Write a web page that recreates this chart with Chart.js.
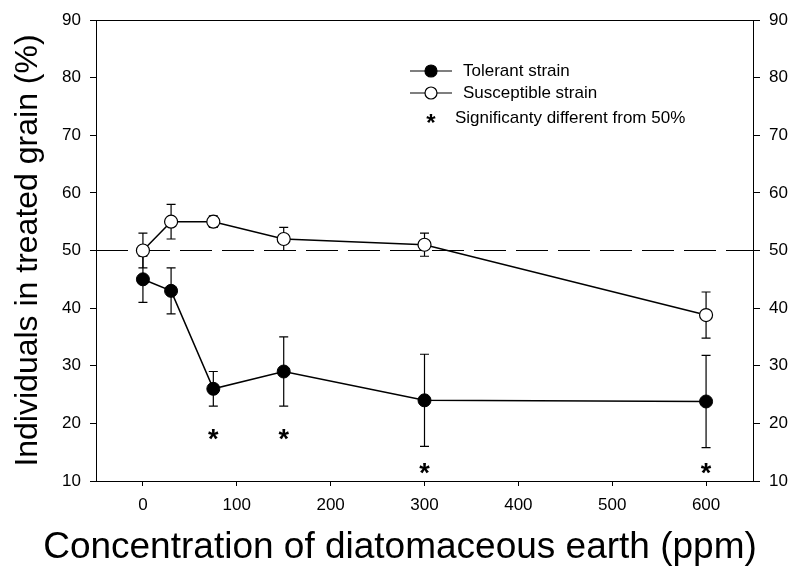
<!DOCTYPE html>
<html>
<head>
<meta charset="utf-8">
<script src="https://cdn.jsdelivr.net/npm/chart.js@4"></script>
<style>
  body { margin: 0; background: #fff; }
  #wrap { width: 792px; height: 571px; }
</style>
</head>
<body>
<div id="wrap"><canvas id="glapharea" width="792" height="571"></canvas></div>
<script>
// concentration of diatomaceous earth (ppm)
var conc = [0, 30, 75, 150, 300, 600];
var tolerant = [45, 43, 26, 29, 24, 23.8];
var tolerantErr = [4, 4, 3, 6, 8, 8];
var susceptible = [50, 55, 55, 52, 51, 38.8];
var susceptibleErr = [3, 3, 1, 2, 2, 4];
// points marked "*" (significantly different from 50%)
var sigConc = [75, 150, 300, 600];
var sigY = [18.3, 18.3, 12.5, 12.5];
var xTicks = [0, 100, 200, 300, 400, 500, 600];
var refLine = 50;
var xTitle = 'Concentration of diatomaceous earth (ppm)';

var FONT = "'Liberation Sans', Arial, Helvetica, sans-serif";

function points(xs, ys) {
    var hairetu = [];
    for (var i = 0; i < xs.length; i++) {
        hairetu.push({x: xs[i], y: ys[i]});
    }
    return hairetu;
}

// error bars, drawn under the markers
var errorBars = {
    id: 'errorBars',
    beforeDatasetsDraw: function(chart) {
        var ctx = chart.ctx;
        var xs = chart.scales.x, ys = chart.scales.y;
        var sets = [[tolerant, tolerantErr], [susceptible, susceptibleErr]];
        ctx.save();
        ctx.strokeStyle = '#000';
        ctx.lineWidth = 1.2;
        sets.forEach(function(s) {
            for (var i = 0; i < conc.length; i++) {
                var px = xs.getPixelForValue(conc[i]);
                var top = ys.getPixelForValue(s[0][i] + s[1][i]);
                var bot = ys.getPixelForValue(s[0][i] - s[1][i]);
                ctx.beginPath();
                ctx.moveTo(px, top); ctx.lineTo(px, bot);
                ctx.moveTo(px - 4.5, top); ctx.lineTo(px + 4.5, top);
                ctx.moveTo(px - 4.5, bot); ctx.lineTo(px + 4.5, bot);
                ctx.stroke();
            }
        });
        ctx.restore();
    }
};

// asterisks + legend box + x title (wider than the plot, so not the scale title)
var annotations = {
    id: 'annotations',
    afterDatasetsDraw: function(chart) {
        var ctx = chart.ctx;
        var xs = chart.scales.x, ys = chart.scales.y;
        ctx.save();
        ctx.fillStyle = '#000';
        ctx.font = 'bold 27px ' + FONT;
        ctx.textAlign = 'center';
        ctx.textBaseline = 'alphabetic';
        for (var i = 0; i < sigConc.length; i++) {
            ctx.fillText('*', xs.getPixelForValue(sigConc[i]), ys.getPixelForValue(sigY[i]) + 15);
        }

        // legend
        var rows = [
            {label: 'Tolerant strain', fill: '#000', y: 71},
            {label: 'Susceptible strain', fill: '#fff', y: 93}
        ];
        ctx.lineWidth = 1.2;
        ctx.strokeStyle = '#000';
        rows.forEach(function(r) {
            ctx.beginPath();
            ctx.moveTo(410, r.y); ctx.lineTo(452, r.y);
            ctx.stroke();
            ctx.beginPath();
            ctx.arc(431, r.y, 6, 0, Math.PI * 2);
            ctx.fillStyle = r.fill;
            ctx.fill();
            ctx.stroke();
            ctx.fillStyle = '#000';
            ctx.font = '17px ' + FONT;
            ctx.textAlign = 'left';
            ctx.textBaseline = 'middle';
            ctx.fillText(r.label, 463, r.y);
        });
        ctx.font = 'bold 24px ' + FONT;
        ctx.textAlign = 'center';
        ctx.textBaseline = 'alphabetic';
        ctx.fillText('*', 431, 131);
        ctx.font = '17px ' + FONT;
        ctx.textAlign = 'left';
        ctx.textBaseline = 'middle';
        ctx.fillText('Significanty different from 50%', 455, 118);

        ctx.font = '37px ' + FONT;
        ctx.textAlign = 'center';
        ctx.textBaseline = 'middle';
        ctx.fillText(xTitle, 400, 548);
        ctx.restore();
    }
};

var glapharea = document.getElementById("glapharea").getContext('2d');
var glaph = new Chart(glapharea, {
    type: 'scatter',
    data: {
        datasets: [
            {
                label: 'Tolerant strain',
                data: points(conc, tolerant),
                showLine: true,
                borderColor: '#000',
                borderWidth: 1.5,
                pointRadius: 6.5,
                pointBackgroundColor: '#000',
                pointBorderColor: '#000',
                pointBorderWidth: 1
            }, {
                label: 'Susceptible strain',
                data: points(conc, susceptible),
                showLine: true,
                borderColor: '#000',
                borderWidth: 1.5,
                pointRadius: 6.5,
                pointBackgroundColor: '#fff',
                pointBorderColor: '#000',
                pointBorderWidth: 1.2
            }, {
                label: '50%',
                data: [{x: -50, y: refLine}, {x: 650, y: refLine}],
                showLine: true,
                borderColor: '#000',
                borderWidth: 1,
                borderDash: [32, 10],
                pointRadius: 0
            }
        ]
    },
    options: {
        responsive: false,
        animation: false,
        devicePixelRatio: 1,
        layout: { padding: 0 },
        elements: { line: { tension: 0 } },
        plugins: {
            legend: { display: false },
            tooltip: { enabled: false }
        },
        scales: {
            x: {
                type: 'linear',
                position: 'bottom',
                min: -50,
                max: 650,
                afterBuildTicks: function(s) {
                    s.ticks = xTicks.map(function(v) { return {value: v}; });
                },
                afterFit: function(s) { s.height = 90; },
                grid: { display: true, drawOnChartArea: false, drawTicks: true, tickLength: 5, color: '#000', lineWidth: 1 },
                border: { display: true, color: '#000', width: 1 },
                ticks: { color: '#000', padding: 9, maxRotation: 0, font: { family: FONT, size: 17 } }
            },
            x2: {
                type: 'linear',
                position: 'top',
                min: -50,
                max: 650,
                afterFit: function(s) { s.height = 20; },
                grid: { display: false },
                border: { display: true, color: '#000', width: 1 },
                ticks: { display: false }
            },
            y: {
                type: 'linear',
                position: 'left',
                min: 10,
                max: 90,
                ticks: { stepSize: 10, color: '#000', padding: 9, font: { family: FONT, size: 17 } },
                afterFit: function(s) { s.width = 96; },
                grid: { display: true, drawOnChartArea: false, drawTicks: true, tickLength: 6, color: '#000', lineWidth: 1 },
                border: { display: true, color: '#000', width: 1 },
                title: {
                    display: true,
                    text: 'Individuals in treated grain (%)',
                    color: '#000',
                    font: { family: FONT, size: 32 },
                    padding: { top: 9, bottom: 0 }
                }
            },
            y2: {
                type: 'linear',
                position: 'right',
                min: 10,
                max: 90,
                ticks: { stepSize: 10, color: '#000', padding: 9, font: { family: FONT, size: 17 } },
                afterFit: function(s) { s.width = 39; },
                grid: { display: true, drawOnChartArea: false, drawTicks: true, tickLength: 7, color: '#000', lineWidth: 1 },
                border: { display: true, color: '#000', width: 1 }
            }
        }
    },
    plugins: [errorBars, annotations]
});
</script>
</body>
</html>
